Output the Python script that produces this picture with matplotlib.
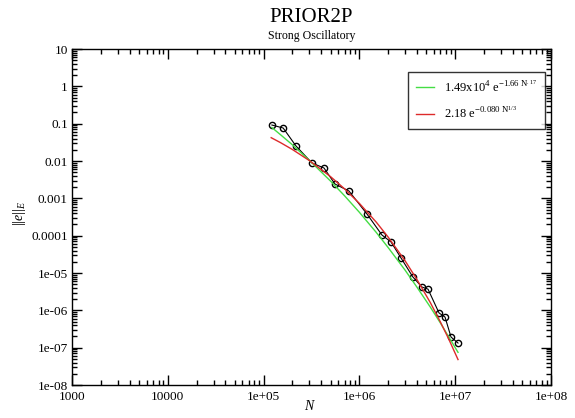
import numpy as np
import matplotlib
matplotlib.use("Agg")
import matplotlib.pyplot as plt
from matplotlib.ticker import LogLocator, FixedLocator, FixedFormatter, NullFormatter

plt.rcParams['font.family'] = ['Liberation Serif', 'DejaVu Serif']
plt.rcParams['mathtext.fontset'] = 'custom'
plt.rcParams['mathtext.rm'] = 'Liberation Serif'
plt.rcParams['mathtext.it'] = 'Liberation Serif:italic'
plt.rcParams['mathtext.bf'] = 'Liberation Serif:bold'

# ---- data ----
N_data = [1.22e5, 1.60e5, 2.18e5, 3.20e5, 4.27e5, 5.56e5, 7.78e5, 1.20e6, 1.72e6,
          2.14e6, 2.72e6, 3.62e6, 4.50e6, 5.20e6, 6.78e6, 7.83e6, 9.04e6, 1.07e7]
err_data = [0.092, 0.0765, 0.0252, 0.00883, 0.00649, 0.00242, 0.00157, 3.8e-4, 1.04e-4,
            6.76e-5, 2.52e-5, 7.8e-6, 4.2e-6, 3.7e-6, 8.5e-7, 6.6e-7, 1.93e-7, 1.33e-7]

N_green = [1.22e5, 1.5e5, 2e5, 3e5, 5e5, 7e5, 1e6, 1.5e6, 2e6, 3e6, 4e6, 5.5e6, 7e6, 8.5e6, 1.07e7]
err_green = [0.0788, 0.0507, 0.0271, 0.01043, 0.00290, 1.17e-3, 4.22e-4, 1.22e-4, 4.77e-5,
             1.19e-5, 4.13e-6, 1.22e-6, 4.6e-7, 2.0e-7, 7.5e-8]

N_red = [1.2e5, 1.5e5, 2e5, 3e5, 5e5, 7e5, 1e6, 1.5e6, 2e6, 3e6, 4e6, 5.5e6, 7e6, 8.5e6, 1.07e7]
err_red = [0.0421, 0.0311, 0.0203, 0.0103, 0.00381, 0.001794, 7.31e-4, 2.30e-4, 9.1e-5,
           2.12e-5, 6.6e-6, 1.61e-6, 4.9e-7, 1.77e-7, 4.8e-8]

green_label = r'$\mathrm{1.49x10^{4}\ e^{-1.66\ N^{.17}}}$'
red_label = r'$\mathrm{2.18\ e^{-0.080\ N^{1/3}}}$'

x_ticks = [1e3, 1e4, 1e5, 1e6, 1e7, 1e8]
x_ticklabels = ['1000', '10000', '1e+05', '1e+06', '1e+07', '1e+08']
y_ticks = [10, 1, 0.1, 0.01, 0.001, 1e-4, 1e-5, 1e-6, 1e-7, 1e-8]
y_ticklabels = ['10', '1', '0.1', '0.01', '0.001', '0.0001', '1e-05', '1e-06', '1e-07', '1e-08']

title = 'PRIOR2P'
subtitle = 'Strong Oscillatory'

# ---- figure ----
W, H = 575, 418
fig = plt.figure(figsize=(W / 100, H / 100), dpi=100)
ax = fig.add_axes([72 / W, 1 - 385 / H, 479 / W, 336 / H])

ax.plot(N_data, err_data, color='black', lw=0.8, marker='o', ms=4.5,
        mfc='none', mec='black', mew=1.0, zorder=3)
ax.plot(N_green, err_green, color='#44dd44', lw=1.0, label=green_label, zorder=4)
ax.plot(N_red, err_red, color='#dd2a2a', lw=1.0, label=red_label, zorder=5)

ax.set_xscale('log')
ax.set_yscale('log')
ax.set_xlim(1e3, 1e8)
ax.set_ylim(1e-8, 10)

ax.xaxis.set_major_locator(FixedLocator(x_ticks))
ax.xaxis.set_major_formatter(FixedFormatter(x_ticklabels))
ax.yaxis.set_major_locator(FixedLocator(y_ticks))
ax.yaxis.set_major_formatter(FixedFormatter(y_ticklabels))
ax.xaxis.set_minor_locator(LogLocator(base=10, subs=np.arange(2, 10), numticks=100))
ax.yaxis.set_minor_locator(LogLocator(base=10, subs=np.arange(2, 10), numticks=100))
ax.xaxis.set_minor_formatter(NullFormatter())
ax.yaxis.set_minor_formatter(NullFormatter())

ax.tick_params(which='both', direction='in', top=True, right=True, width=1.0,
               labelsize=9.5, color='black')
ax.tick_params(which='major', length=7)
ax.tick_params(which='minor', length=3.5)
ax.tick_params(axis='x', pad=4)
ax.tick_params(axis='y', pad=3)
for s in ax.spines.values():
    s.set_linewidth(1.0)

fig.text(311.5 / W, 1 - 22 / H, title, ha='center', va='baseline', fontsize=15)
fig.text(311.5 / W, 1 - 39 / H, subtitle, ha='center', va='baseline', fontsize=8.6)
fig.text(310 / W, 1 - 406 / H, r'$N$', ha='center', va='center', fontsize=10)
fig.text(19 / W, 1 - 213 / H, r'$\mathrm{||}e\mathrm{||}_{E}$', ha='center', va='center',
         rotation=90, fontsize=10)

leg = ax.legend(loc='upper left', bbox_to_anchor=((408 - 72) / 479, 1 - (72 - 49) / 336),
                frameon=True, fancybox=False, edgecolor='black', fontsize=9,
                handlelength=1.5, handletextpad=0.8, borderpad=0.6, labelspacing=0.9,
                borderaxespad=0)
leg.get_frame().set_linewidth(1.0)

fig.savefig('out.png', dpi=100)
